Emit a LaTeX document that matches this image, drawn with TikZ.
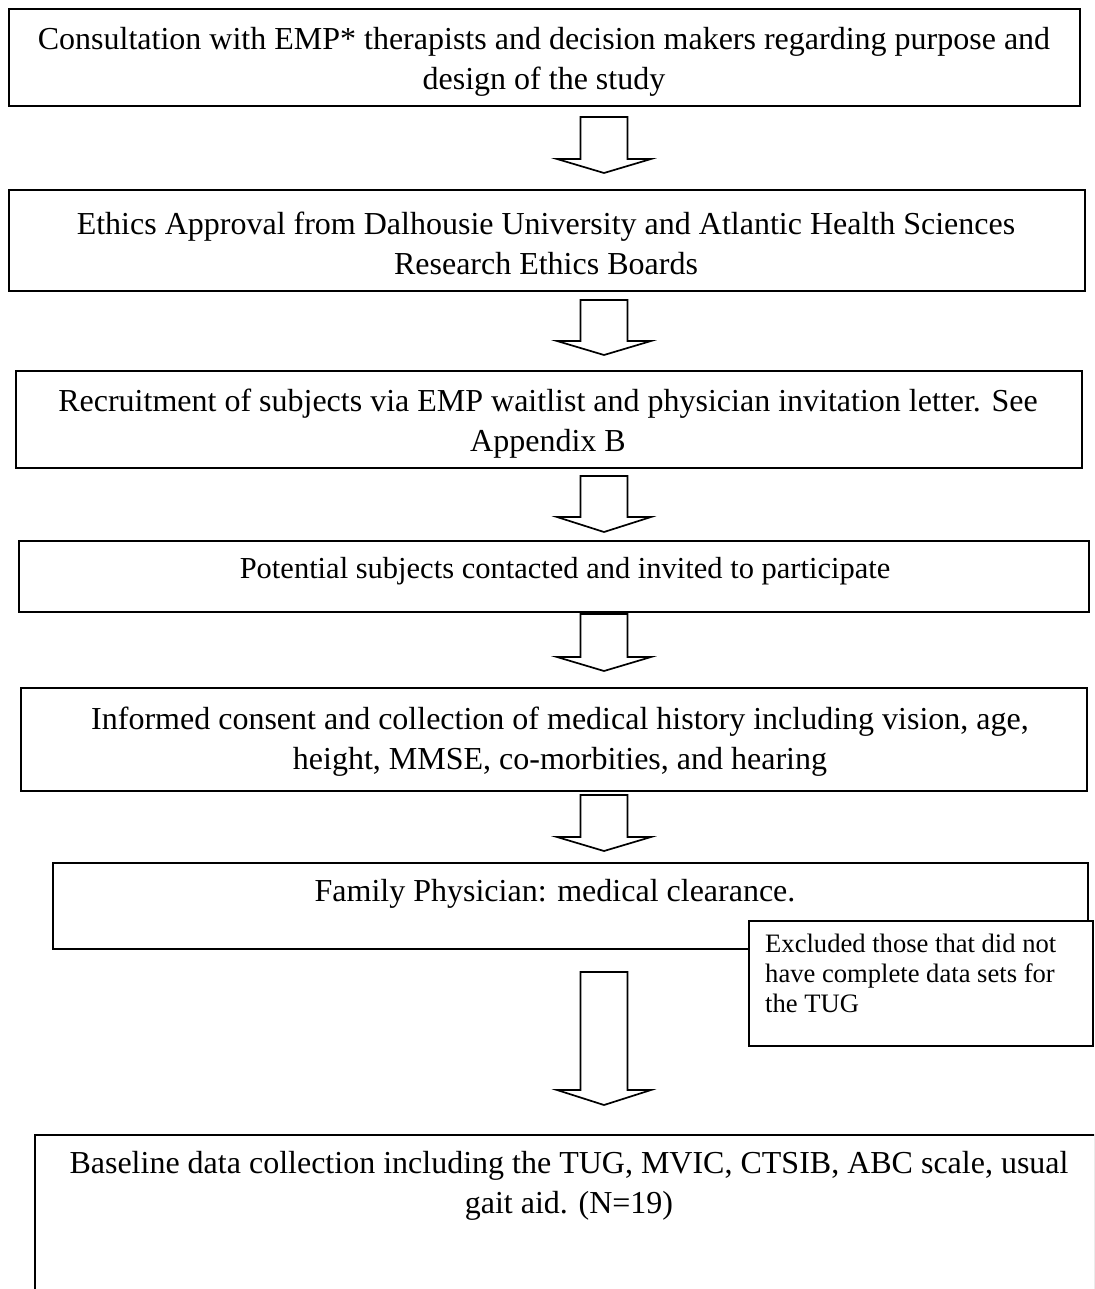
\documentclass[tikz,border=0pt]{standalone}
\usepackage{fontspec}
\setmainfont{Liberation Serif}
\usetikzlibrary{shadows}
\newcommand\blockarr[4]{%
  \draw[blk] ({#1-23.5},#2) -- ({#1+23.5},#2) -- ({#1+23.5},#3) -- ({#1+47},#3)
    -- (#1,#4) -- ({#1-47},#3) -- ({#1-23.5},#3) -- cycle;}
\begin{document}
\begin{tikzpicture}[x=1pt,y=-1pt,
  box/.style={draw, line width=1.8pt, fill=white, anchor=north west, inner sep=0pt,
    drop shadow={shadow xshift=1.4pt, shadow yshift=-1.4pt, fill=black!70, opacity=1}},
  txt/.style={font=\fontsize{32}{40}\selectfont, align=center, inner sep=0pt},
  small/.style={font=\fontsize{26.6}{30}\selectfont, align=left, inner sep=0pt, anchor=north west},
  blk/.style={draw, line width=1.7pt, fill=white, line join=miter}]
\clip (0,0) rectangle (1094,1289);
\fill[white] (0,0) rectangle (1094,1289);

\node[box, minimum width=1071pt, minimum height=97pt] (b1) at (8,8) {};
\node[txt] (t1) at (544,62) {Consultation with EMP* therapists and decision makers regarding purpose and\\design of the study};

\blockarr{604}{117}{159}{173}

\node[box, minimum width=1076pt, minimum height=101pt] (b2) at (8,189) {};
\node[txt] (t2) at (546,243) {Ethics Approval from Dalhousie University and Atlantic Health Sciences\\Research Ethics Boards};

\blockarr{604}{300}{341}{355}

\node[box, minimum width=1066pt, minimum height=97pt] (b3) at (15,370) {};
\node[txt] (t3) at (548,424) {Recruitment of subjects via EMP waitlist and physician invitation letter. See\\Appendix B};

\blockarr{604}{476}{517}{532}

\node[box, minimum width=1070pt, minimum height=71pt] (b4) at (18,540) {};
\node[txt, font=\fontsize{30.5}{40}\selectfont] (t4) at (565,571) {Potential subjects contacted and invited to participate};

\blockarr{604}{614}{657}{671}

\node[box, minimum width=1066pt, minimum height=103pt] (b5) at (20,687) {};
\node[txt] (t5) at (560,742) {Informed consent and collection of medical history including vision, age,\\height, MMSE, co-morbities, and hearing};

\blockarr{604}{795}{837}{851}

\node[box, minimum width=1035pt, minimum height=86pt] (b6) at (52,862) {};
\node[txt] (t6) at (555,894) {Family Physician: medical clearance.};

\blockarr{604}{972}{1090}{1105}

\node[box, minimum width=344pt, minimum height=125pt] (ex) at (748,920) {};
\node[small] (tex) at (765,934) {Excluded those that did not\\have complete data sets for\\the TUG};

\node[box, minimum width=1070pt, minimum height=200pt] (b7) at (34,1134) {};
\node[txt] (t7) at (569,1186) {Baseline data collection including the TUG, MVIC, CTSIB, ABC scale, usual\\gait aid. (N=19)};
\end{tikzpicture}
\end{document}
